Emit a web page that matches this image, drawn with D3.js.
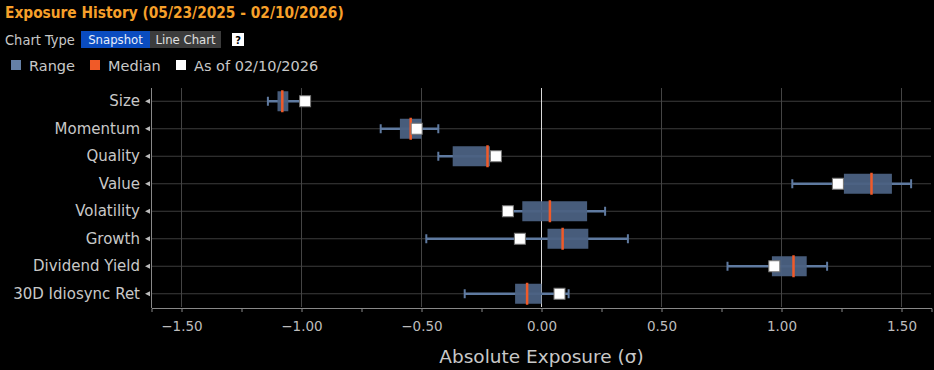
<!DOCTYPE html>
<html lang="en">
<head>
    <meta charset="UTF-8">
    <title>Exposure History</title>
    <script src="https://cdnjs.cloudflare.com/ajax/libs/d3/7.8.5/d3.min.js"></script>
    <style>
        body {
            margin: 0;
            background-color: #000;
            font-family: 'DejaVu Sans Condensed', 'DejaVu Sans', sans-serif;
        }
        svg {
            display: block;
        }
        .lbl {
            fill: #c8c8c8;
        }
    </style>
</head>
<body>
    <svg id="chart" width="934" height="370"></svg>

    <script>
        // factor names, top to bottom
        const categories = ["Size", "Momentum", "Quality", "Value", "Volatility", "Growth", "Dividend Yield", "30D Idiosync Ret"];
        // range over the period (whisker ends, box edges, median)
        const lows    = [-1.14, -0.67, -0.43, 1.045, -0.14, -0.48, 0.775, -0.32];
        const q1s     = [-1.10, -0.59, -0.37, 1.26, -0.08, 0.025, 0.96, -0.11];
        const medians = [-1.08, -0.545, -0.225, 1.375, 0.035, 0.088, 1.05, -0.06];
        const q3s     = [-1.055, -0.50, -0.215, 1.46, 0.19, 0.195, 1.105, 0.0];
        const highs   = [-0.99, -0.43, -0.19, 1.54, 0.265, 0.36, 1.19, 0.113];
        // value as of 02/10/2026
        const current = [-0.985, -0.52, -0.19, 1.235, -0.14, -0.09, 0.97, 0.075];
        const tickValues = [-1.5, -1.0, -0.5, 0, 0.5, 1.0, 1.5];

        const svg = d3.select("#chart");

        const x = d3.scaleLinear().domain([-1.625, 1.625]).range([151.5, 931.5]);
        const y = d3.scaleBand().domain(categories).range([87.5, 307.5]);
        const cy = d => y(d) + y.bandwidth() / 2;

        // header
        svg.append("text")
            .attr("x", 5).attr("y", 18)
            .attr("fill", "#f7a02a")
            .attr("font-size", 15.3).attr("font-weight", "bold")
            .text("Exposure History (05/23/2025 - 02/10/2026)");

        svg.append("text").attr("class", "lbl")
            .attr("x", 5).attr("y", 45).attr("font-size", 14.5)
            .text("Chart Type");

        svg.append("rect").attr("x", 81).attr("y", 31).attr("width", 69).attr("height", 17).attr("fill", "#0a4cc0");
        svg.append("text").attr("x", 115.5).attr("y", 44).attr("text-anchor", "middle")
            .attr("font-size", 13).attr("fill", "#e8eefa").text("Snapshot");
        svg.append("rect").attr("x", 150).attr("y", 31).attr("width", 71).attr("height", 17).attr("fill", "#3c3c3c");
        svg.append("text").attr("x", 185.5).attr("y", 44).attr("text-anchor", "middle")
            .attr("font-size", 13).attr("fill", "#e0e0e0").text("Line Chart");

        svg.append("rect").attr("x", 232).attr("y", 33).attr("width", 12).attr("height", 13).attr("fill", "#fff");
        svg.append("text").attr("x", 238).attr("y", 44).attr("text-anchor", "middle")
            .attr("font-size", 11).attr("font-weight", "bold").attr("fill", "#000").text("?");

        // legend
        const legend = [
            { label: "Range", color: "#6580a6", x: 11 },
            { label: "Median", color: "#f05a28", x: 90 },
            { label: "As of 02/10/2026", color: "#ffffff", x: 176 }
        ];
        const lg = svg.selectAll(".leg").data(legend).enter().append("g");
        lg.append("rect")
            .attr("x", d => d.x).attr("y", 60).attr("width", 10).attr("height", 10)
            .attr("fill", d => d.color);
        lg.append("text").attr("class", "lbl")
            .attr("x", d => d.x + 18).attr("y", 71)
            .attr("font-family", "'DejaVu Sans', sans-serif").attr("font-size", 14.5)
            .text(d => d.label);

        // grid
        svg.append("g").selectAll("line").data(categories).enter().append("line")
            .attr("x1", 151).attr("x2", 931)
            .attr("y1", d => cy(d)).attr("y2", d => cy(d))
            .attr("stroke", "#3c3c3c").attr("stroke-width", 1);

        svg.append("g").selectAll("line").data(tickValues).enter().append("line")
            .attr("x1", d => x(d)).attr("x2", d => x(d))
            .attr("y1", 88).attr("y2", 307)
            .attr("stroke", d => d === 0 ? "#d8d8d8" : "#444")
            .attr("stroke-width", 1);

        // axes
        const xAxis = d3.axisBottom(x)
            .tickValues(d3.range(-1.5, 1.51, 0.25))
            .tickFormat(d => Math.abs(d * 2 - Math.round(d * 2)) < 1e-6 ? d3.format(".2f")(d) : "")
            .tickSize(4).tickPadding(9);
        const gx = svg.append("g").attr("transform", "translate(0,308)").call(xAxis);
        gx.select(".domain").attr("stroke", "#888");
        gx.selectAll(".tick line").attr("stroke", "#888");
        gx.selectAll(".tick text").attr("fill", "#bdbdbd").attr("font-size", 13.5)
            .attr("font-family", "'DejaVu Sans', sans-serif");

        const yAxis = d3.axisLeft(y).tickSize(0).tickPadding(11);
        const gy = svg.append("g").attr("transform", "translate(151,0)").call(yAxis);
        gy.select(".domain").attr("stroke", "#888");
        gy.selectAll(".tick text").attr("fill", "#c8c8c8").attr("font-size", 15)
            .attr("font-family", "'DejaVu Sans', sans-serif");
        // little arrow markers on the y ticks
        gy.selectAll(".tick").append("path")
            .attr("d", "M-6,0L-1,-2.5L-1,2.5Z")
            .attr("fill", "#bbb");

        svg.append("text").attr("class", "lbl")
            .attr("x", x(0)).attr("y", 363).attr("text-anchor", "middle")
            .attr("font-family", "'DejaVu Sans', sans-serif")
            .attr("font-size", 18.5).text("Absolute Exposure (σ)");

        // boxes
        const rows = categories.map((c, i) => ({
            cat: c, lo: lows[i], q1: q1s[i], med: medians[i], q3: q3s[i], hi: highs[i], cur: current[i]
        }));
        const whisk = "#5f7aa0";
        const g = svg.append("g").selectAll("g").data(rows).enter().append("g");

        g.append("line")
            .attr("x1", d => x(d.lo)).attr("x2", d => x(d.hi))
            .attr("y1", d => cy(d.cat)).attr("y2", d => cy(d.cat))
            .attr("stroke", whisk).attr("stroke-width", 2.5);
        g.append("line")
            .attr("x1", d => x(d.lo)).attr("x2", d => x(d.lo))
            .attr("y1", d => cy(d.cat) - 4.5).attr("y2", d => cy(d.cat) + 4.5)
            .attr("stroke", whisk).attr("stroke-width", 2);
        g.append("line")
            .attr("x1", d => x(d.hi)).attr("x2", d => x(d.hi))
            .attr("y1", d => cy(d.cat) - 4.5).attr("y2", d => cy(d.cat) + 4.5)
            .attr("stroke", whisk).attr("stroke-width", 2);

        g.append("rect")
            .attr("x", d => x(d.q1)).attr("width", d => x(d.q3) - x(d.q1))
            .attr("y", d => cy(d.cat) - 10).attr("height", 20)
            .attr("fill", "#4b6182").attr("fill-opacity", 0.95);

        g.append("line")
            .attr("x1", d => x(d.med)).attr("x2", d => x(d.med))
            .attr("y1", d => cy(d.cat) - 11).attr("y2", d => cy(d.cat) + 11)
            .attr("stroke", "#f05a28").attr("stroke-width", 2.5);

        g.append("rect")
            .attr("x", d => x(d.cur) - 5.5).attr("y", d => cy(d.cat) - 5.5)
            .attr("width", 11).attr("height", 11)
            .attr("fill", "#fff").attr("stroke", "#777").attr("stroke-width", 1);
    </script>
</body>
</html>
